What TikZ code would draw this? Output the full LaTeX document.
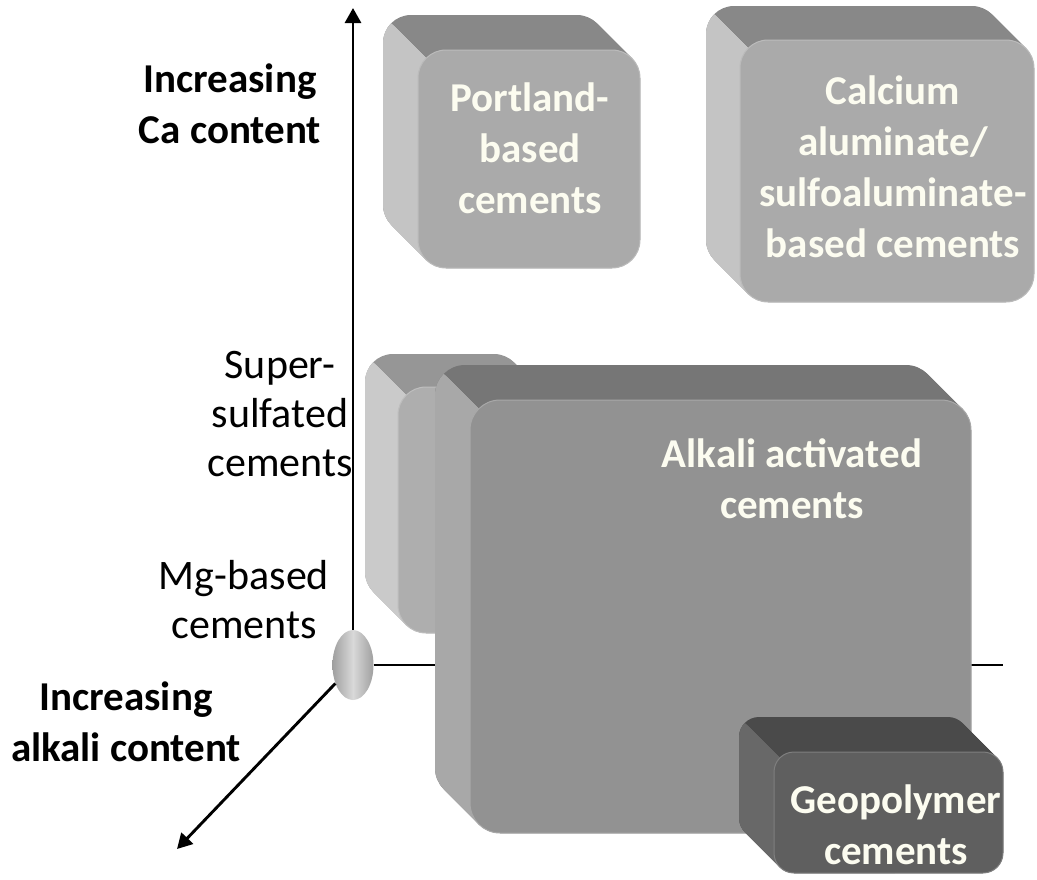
\documentclass[tikz,border=0pt]{standalone}
\usepackage{fontspec}
\setmainfont{Carlito}
\usetikzlibrary{arrows.meta, shapes.geometric}
\definecolor{txtw}{RGB}{252,252,240}
% block colours: F front, T top wall, L left wall
\definecolor{pcF}{RGB}{170,170,170}
\definecolor{pcT}{RGB}{136,136,136}
\definecolor{pcL}{RGB}{196,196,196}
\definecolor{ssF}{RGB}{174,174,174}
\definecolor{ssT}{RGB}{150,150,150}
\definecolor{ssL}{RGB}{202,202,202}
\definecolor{aaF}{RGB}{146,146,146}
\definecolor{aaT}{RGB}{118,118,118}
\definecolor{aaL}{RGB}{168,168,168}
\definecolor{gpF}{RGB}{95,95,95}
\definecolor{gpT}{RGB}{74,74,74}
\definecolor{gpL}{RGB}{104,104,104}
\tikzset{
  axis/.style={line width=2.9pt, black},
  axtip/.style={axis, -{Triangle[length=15pt,width=16pt]}},
  lab/.style={font=\fontsize{41}{51}\selectfont\bfseries, align=center, inner sep=0pt},
  labr/.style={font=\fontsize{42}{49}\selectfont, align=center, inner sep=0pt},
  blab/.style={lab, text=txtw},
  front/.style={rectangle, inner sep=0pt, line width=1pt}
}
% #1 name, #2-#5 front face (x1,y1,x2,y2), #6 depth, #7 corner radius, #8 colour prefix
\newcommand{\cemblock}[8]{%
  \foreach \t in {0,...,#6}
    \fill[#8T, rounded corners=#7pt] (#2-\t,#3-\t) rectangle (#4-\t,#5-\t);
  \begin{scope}
    \clip (#2-200,#3-200) -- (#2+1200,#3+1200) -- (#2-1200,#3+1200) -- cycle;
    \foreach \t in {0,...,#6}
      \fill[#8L, rounded corners=#7pt] (#2-\t,#3-\t) rectangle (#4-\t,#5-\t);
  \end{scope}
  \node[front, fill=#8F, draw=#8F!80!white, rounded corners=#7pt,
        minimum width=#4pt-#2pt, minimum height=#5pt-#3pt] (#1) at ({(#2+#4)/2},{(#3+#5)/2}) {};
}

\begin{document}
\begin{tikzpicture}[x=1pt, y=-1pt]
	\useasboundingbox (0,0) rectangle (1037,879);
	\node[ellipse, minimum width=41pt, minimum height=70pt, inner sep=0pt,
		left color=gray!75, right color=gray!75, middle color=gray!30] (orig) at (353,665) {};
	\coordinate (catip) at (353,8);
	\coordinate (alktip) at (177,849);
	\coordinate (xend) at (1003,665);
	\draw[axtip] (orig) -- (catip);
	\draw[axtip] (orig) -- (alktip);
	\draw[axis] (orig) -- (xend);
	\cemblock{super}{398}{387}{555}{633}{33}{28}{ss}
	\cemblock{portland}{418}{50}{640}{268}{35}{28}{pc}
	\cemblock{calcium}{740}{40}{1034}{302}{34}{28}{pc}
	\cemblock{alkali}{470}{400}{971}{833}{35}{30}{aa}
	\cemblock{geo}{774}{752}{1003}{873}{35}{20}{gp}
	\node[blab] (portlandtxt) at (530,148) {Portland-\\based\\cements};
	\node[blab] (calciumtxt) at (893,167) {Calcium\\aluminate/\\sulfoaluminate-\\based cements};
	\node[blab] (alkalitxt) at (792,479) {Alkali activated\\cements};
	\node[blab] (geotxt) at (896,825) {Geopolymer\\cements};
	\node[lab] (catxt) at (230,104) {Increasing\\Ca content};
	\node[labr] (supertxt) at (280,414) {Super-\\sulfated\\cements};
	\node[labr] (mgtxt) at (244,600) {Mg-based\\cements};
	\node[lab] (alktxt) at (126,722) {Increasing\\alkali content};
\end{tikzpicture}
\end{document}
